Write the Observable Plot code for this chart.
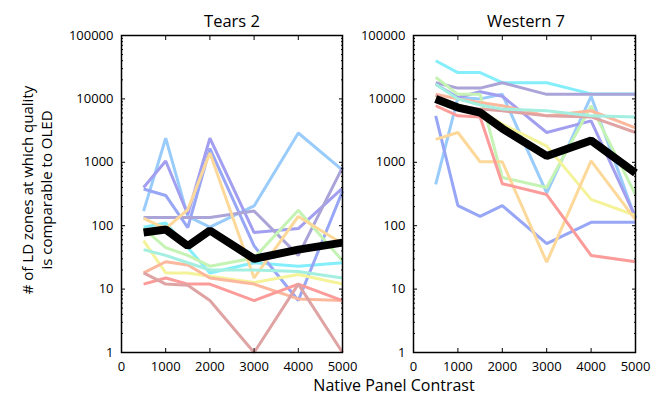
<!DOCTYPE html>
<html>
<head>
<meta charset="utf-8">
<script src="https://cdn.jsdelivr.net/npm/d3@7"></script>
<script src="https://cdn.jsdelivr.net/npm/@observablehq/plot@0.6"></script>
<style>
  html, body { margin: 0; padding: 0; background: #fff; }
  #wrap { position: relative; width: 668px; height: 401px; overflow: hidden; font-family: "Open Sans", sans-serif; color: #000; }
  .panel { position: absolute; top: 0; }
  .lbl { position: absolute; white-space: nowrap; }
</style>
</head>
<body>
<div id="wrap">
  <div class="lbl" id="t1" style="left:232px; top:9px; transform:translateX(-50%); font-size:16.5px;">Tears 2</div>
  <div class="lbl" id="t2" style="left:526px; top:9px; transform:translateX(-50%); font-size:16.5px;">Western 7</div>
  <div class="lbl" style="left:394px; top:374px; transform:translateX(-50%); font-size:16px;">Native Panel Contrast</div>
  <div class="lbl" style="left:37px; top:190px; transform:translate(-50%,-50%) rotate(-90deg); font-size:15px; text-align:center; line-height:19px;"># of LD zones at which quality<br>is comparable to OLED</div>
</div>
<script>
const panelTitles = ["Tears 2", "Western 7"];
const contrast = [500, 1000, 1500, 2000, 3000, 4000, 5000];
const xTicks = [0, 1000, 2000, 3000, 4000, 5000];
const yTicks = [1, 10, 100, 1000, 10000, 100000];

const seriesNames = ["cyan", "lightBlue", "periwinkle", "lavender", "grayLavender", "green",
                     "yellow", "yellowOrange", "salmon", "red", "dustyRed", "aqua"];
const seriesColors = ["#84eefa", "#99ccfa", "#98a6f6", "#a29ef0", "#aaa4d8", "#c4f3b4",
                      "#f4f39a", "#fcd99a", "#fcb89c", "#fb9c9a", "#dfa3a3", "#a4efe0"];

const tearsValues = [
  [95, 110, 45, 18, 26, 23, 26],
  [170, 2400, 140, 95, 205, 2900, 750],
  [380, 300, 93, 1650, 48, 6.6, 350],
  [400, 1050, 150, 2400, 78, 90, 390],
  [135, 135, 135, 135, 170, 34, 830],
  [90, 45, 34, 23, 31, 175, 28],
  [58, 18, 18, 16, 12.7, 17, 12],
  [130, 90, 180, 1400, 15, 140, 52],
  [18, 27, 24, 15, 12, 7, 6.6],
  [12, 15, 12, 12, 6.6, 12, 6.6],
  [18, 12, 11.5, 6.6, 1, 12, 1],
  [42, 34, 26, 20, 20, 19, 15]
];
const tearsMean = [78, 87, 48, 84, 30, 42, 54];

const westernValues = [
  [40000, 26000, 26000, 18000, 18000, 12000, 12000],
  [450, 10500, 10000, 11800, 330, 11000, 130],
  [5400, 208, 140, 208, 52, 113, 113],
  [17000, 10500, 13000, 11000, 2950, 4500, 136],
  [18000, 14800, 14800, 18000, 11800, 11800, 11800],
  [22000, 11800, 11800, 575, 400, 7750, 310],
  [11000, 8000, 6500, 4000, 1800, 260, 145],
  [2300, 2950, 1020, 1020, 26.5, 1050, 125],
  [11800, 10000, 8800, 7800, 5400, 6500, 3500],
  [7800, 5400, 5200, 460, 310, 34, 27],
  [11500, 7800, 6900, 6500, 5400, 5200, 2950],
  [17000, 10000, 8000, 6900, 6500, 5400, 5200]
];
const westernMean = [10000, 7300, 6100, 3400, 1260, 2200, 680];

const minorTicks = [];
for (let d = 1; d < 100000; d *= 10) for (let k = 2; k <= 9; k++) minorTicks.push(d * k);

function makePanel(values, mean, width, marginLeft, marginRight) {
  const rows = [];
  seriesNames.forEach((name, i) => values[i].forEach((v, j) => rows.push({series: name, x: contrast[j], y: v})));
  const meanRows = mean.map((v, j) => ({x: contrast[j], y: v}));
  const blank = () => "";
  return Plot.plot({
    width, height: 401,
    marginLeft, marginRight, marginTop: 35, marginBottom: 49,
    x: {domain: [0, 5000], label: null},
    y: {type: "log", domain: [1, 100000], label: null},
    color: {domain: seriesNames, range: seriesColors},
    style: {fontFamily: "Open Sans, sans-serif", fontSize: "13px", color: "black", background: "transparent", overflow: "visible"},
    marks: [
      Plot.line(rows, {x: "x", y: "y", z: "series", stroke: "series", strokeWidth: 3, strokeLinejoin: "miter", strokeLinecap: "butt"}),
      Plot.line(meanRows, {x: "x", y: "y", stroke: "black", strokeWidth: 8, strokeLinejoin: "miter", strokeLinecap: "butt"}),
      Plot.axisX({ticks: xTicks, tickSize: -4, tickPadding: 13, tickFormat: d => String(d), label: null}),
      Plot.axisX({anchor: "top", ticks: xTicks, tickSize: -4, tickFormat: blank, label: null}),
      Plot.axisY({ticks: yTicks, tickSize: -4, tickPadding: 12, tickFormat: d => String(d), label: null}),
      Plot.axisY({anchor: "right", ticks: yTicks, tickSize: -4, tickFormat: blank, label: null}),
      Plot.axisY({ticks: minorTicks, tickSize: -2, tickFormat: blank, label: null}),
      Plot.axisY({anchor: "right", ticks: minorTicks, tickSize: -2, tickFormat: blank, label: null}),
      Plot.frame({stroke: "black", strokeWidth: 1.5})
    ]
  });
}

const wrap = document.getElementById("wrap");
const left = makePanel(tearsValues, tearsMean, 350, 121, 8);
left.classList.add("panel"); left.style.left = "0px";
const right = makePanel(westernValues, westernMean, 318, 63, 33);
right.classList.add("panel"); right.style.left = "350px";
wrap.appendChild(left);
wrap.appendChild(right);
document.getElementById("t1").textContent = panelTitles[0];
document.getElementById("t2").textContent = panelTitles[1];
</script>
</body>
</html>
